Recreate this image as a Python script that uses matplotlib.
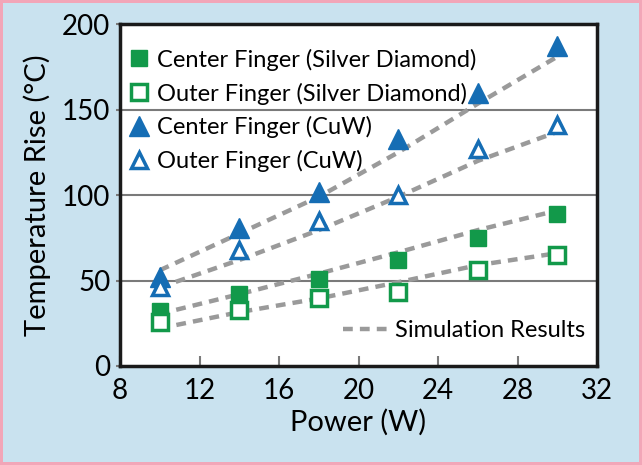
"""
Temperature rise vs power: measured fingers and simulation results
"""

import matplotlib.pyplot as plt
from matplotlib.lines import Line2D

power = [10, 14, 18, 22, 26, 30]

center_sd = [32, 42, 51, 62, 75, 89]
outer_sd = [26, 33, 40, 43, 56, 65]
center_cuw = [52, 81, 102, 133, 160, 187]
outer_cuw = [46, 68, 85, 100, 127, 141]

sim_center_cuw = [56, 77.5, 99, 125, 153.5, 181]
sim_outer_cuw = [46, 62, 79.5, 99, 120, 137]
sim_center_sd = [30.5, 42, 54, 66.5, 79.5, 91]
sim_outer_sd = [22, 31.5, 39.5, 49, 59, 66]

x_ticks = [8, 12, 16, 20, 24, 28, 32]
y_ticks = [0, 50, 100, 150, 200]

green = '#12994a'
blue = '#156db4'
grey = '#9a9a9a'
bg = '#c9e2ef'

plt.rcParams.update({
    'font.family': ['Lato', 'DejaVu Sans'],
    'font.size': 17,
})

fig = plt.figure(figsize=(6.42, 4.65), dpi=100)
fig.patch.set_facecolor(bg)
fig.patch.set_edgecolor('#f2a6b8')
fig.patch.set_linewidth(3)
ax = fig.add_axes([0.187, 0.213, 0.743, 0.735])
ax.set_facecolor('white')

for y in [50, 100, 150]:
    ax.axhline(y, color='#7a7a7a', linewidth=1.5, zorder=1)

dash = dict(color=grey, linestyle=(0, (2.2, 1.6)), linewidth=3.2, zorder=2)
for sim in [sim_center_cuw, sim_outer_cuw, sim_center_sd, sim_outer_sd]:
    ax.plot(power, sim, **dash)

ms = 12
ax.plot(power, center_sd, 's', color=green, markersize=ms, zorder=3)
ax.plot(power, outer_sd, 's', markerfacecolor='white', markeredgecolor=green,
        markeredgewidth=2.5, markersize=ms - 1, zorder=3)
ax.plot(power, center_cuw, '^', color=blue, markersize=ms + 2, zorder=3)
ax.plot(power, outer_cuw, '^', markerfacecolor='white', markeredgecolor=blue,
        markeredgewidth=2.5, markersize=ms, zorder=3)

ax.set_xlim(8, 32)
ax.set_ylim(0, 200)
ax.set_xticks(x_ticks)
ax.set_yticks(y_ticks)
ax.tick_params(axis='x', direction='in', length=7, width=1.5, color='#7a7a7a',
               pad=9, labelsize=20)
ax.tick_params(axis='y', length=3, width=1.5, color='#7a7a7a', pad=4, labelsize=20)
for s in ax.spines.values():
    s.set_linewidth(2.5)
    s.set_color('#1a1a1a')

ax.set_xlabel('Power (W)', fontsize=21, labelpad=3)
ax.set_ylabel('Temperature Rise (°C)', fontsize=21, labelpad=8)

handles = [
    Line2D([], [], marker='s', linestyle='none', color=green, markersize=ms),
    Line2D([], [], marker='s', linestyle='none', markerfacecolor='white',
           markeredgecolor=green, markeredgewidth=2.5, markersize=ms - 1),
    Line2D([], [], marker='^', linestyle='none', color=blue, markersize=ms + 2),
    Line2D([], [], marker='^', linestyle='none', markerfacecolor='white',
           markeredgecolor=blue, markeredgewidth=2.5, markersize=ms),
]
labels = ['Center Finger (Silver Diamond)', 'Outer Finger (Silver Diamond)',
          'Center Finger (CuW)', 'Outer Finger (CuW)']
leg1 = ax.legend(handles, labels, loc='upper left', frameon=False, fontsize=17,
                 handlelength=0.8, handletextpad=0.35, labelspacing=0.5,
                 borderaxespad=0.2, bbox_to_anchor=(-0.01, 0.97))
ax.add_artist(leg1)

sim_handle = Line2D([], [], **dash)
ax.legend([sim_handle], ['Simulation Results'], loc='lower right', frameon=False,
          fontsize=17, handlelength=1.9, handletextpad=0.3,
          bbox_to_anchor=(1.02, 0.01))

fig.savefig('out.png', dpi=100, facecolor=fig.get_facecolor(),
            edgecolor=fig.get_edgecolor())
